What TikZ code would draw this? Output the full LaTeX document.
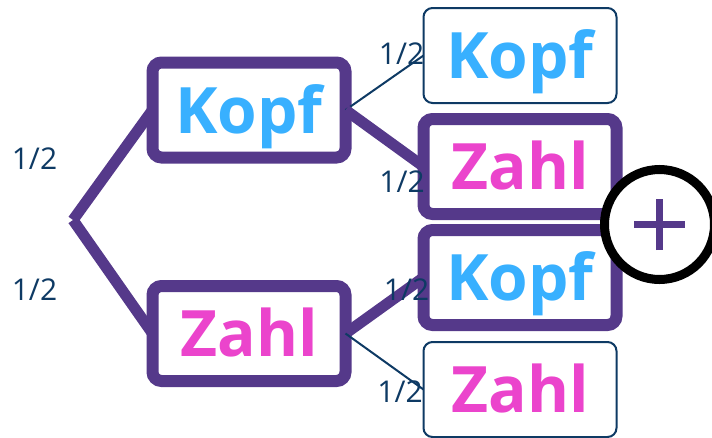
\documentclass[tikz,border=0pt]{standalone}
\usepackage{fontspec}
\setmainfont{Open Sans}
\definecolor{purp}{HTML}{55398A}
\definecolor{kblue}{HTML}{38B0FF}
\definecolor{zpink}{HTML}{EB44CC}
\definecolor{navy}{HTML}{0E3A64}
\begin{document}
\begin{tikzpicture}[x=1pt,y=-1pt,
  box/.style={rectangle, rounded corners=9pt, minimum width=193pt, minimum height=95pt,
    inner sep=0pt, outer sep=0pt, fill=white,
    font=\bfseries\fontsize{64}{64}\selectfont, text height=46pt, text depth=0pt},
  thickbox/.style={box, draw=purp, line width=12pt},
  thinbox/.style={box, draw=navy, line width=2pt},
  kopf/.style={text=kblue},
  zahl/.style={text=zpink},
  thickline/.style={draw=purp, line width=11pt},
  thinline/.style={draw=navy, line width=2pt},
  lab/.style={inner sep=0pt, text=navy, font=\fontsize{30}{30}\selectfont, text height=21.5pt, text depth=0pt}]
\useasboundingbox (0,0) rectangle (712,437);
\clip (0,0) rectangle (712,437);
\coordinate (root) at (73,220);
% boxes
\node[thickbox,kopf] (k1) at (249,110) {Kopf};
\node[thickbox,zahl] (z1) at (249,333.5) {Zahl};
\node[thinbox,kopf] (k2) at (520,55.5) {Kopf};
\node[thickbox,zahl] (z2) at (520,166.5) {Zahl};
\node[thickbox,kopf] (k3) at (520,277.5) {Kopf};
\node[thinbox,zahl] (z3) at (520,389.5) {Zahl};
% connectors
\draw[thickline] (k1.west) -- (root);
\draw[thickline] (root) -- (z1.west);
\draw[thinline] (k1.east) -- (k2.west);
\draw[thickline] (k1.east) -- (z2.west);
\draw[thickline] (z1.east) -- (k3.west);
\draw[thinline] (z1.east) -- (z3.west);
% labels
\node[lab] (l1) at (34.5,158.5) {1/2};
\node[lab] (l2) at (34.5,290) {1/2};
\node[lab] (l3) at (401.5,53.5) {1/2};
\node[lab] (l4) at (402,181.5) {1/2};
\node[lab] (l5) at (406.5,290) {1/2};
\node[lab] (l6) at (400,391.5) {1/2};
% plus circle
\node[circle, draw=black, line width=9pt, fill=white, minimum size=110pt, inner sep=0pt] (pc) at (659.5,224.5) {};
\draw[purp, line width=7pt] ([xshift=-25.5pt]pc.center) -- ([xshift=25.5pt]pc.center);
\draw[purp, line width=7pt] ([yshift=-25.5pt]pc.center) -- ([yshift=25.5pt]pc.center);
\end{tikzpicture}
\end{document}
